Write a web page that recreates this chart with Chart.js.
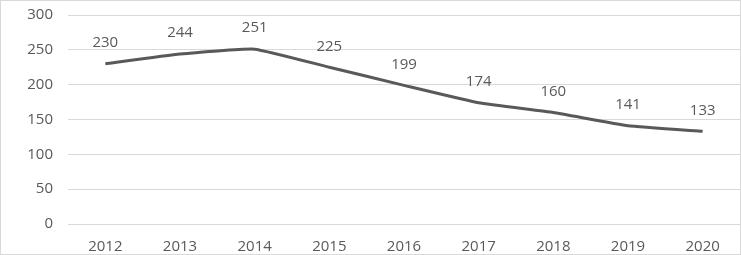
<!DOCTYPE html>
<html>
<head>
<meta charset="utf-8">
<script src="https://cdn.jsdelivr.net/npm/chart.js@4/dist/chart.umd.min.js"></script>
<style>
    html, body { margin: 0; padding: 0; background: #fff; }
    .wrap { position: relative; width: 739px; height: 253px; border: 1px solid #d9d9d9; }
</style>
</head>
<body>
<div class="wrap"><canvas id="lineChart"></canvas></div>
<script>
const years = ['2012', '2013', '2014', '2015', '2016', '2017', '2018', '2019', '2020'];
const values = [230, 244, 251, 225, 199, 174, 160, 141, 133];
const yTicks = [0, 50, 100, 150, 200, 250, 300];

// draws the value above each point
const pointLabels = {
    id: 'pointLabels',
    afterDatasetsDraw(chart) {
        const ctx = chart.ctx;
        const meta = chart.getDatasetMeta(0);
        ctx.save();
        ctx.fillStyle = '#595959';
        ctx.font = '15px "Open Sans", sans-serif';
        ctx.textAlign = 'center';
        ctx.textBaseline = 'middle';
        meta.data.forEach((pt, i) => {
            ctx.fillText(values[i], pt.x, pt.y - 21);
        });
        ctx.restore();
    }
};

new Chart(document.getElementById('lineChart'), {
    type: 'line',
    data: {
        labels: years,
        datasets: [{
            data: values,
            borderColor: '#595959',
            borderWidth: 3,
            pointRadius: 0,
            tension: 0.12,
            fill: false
        }]
    },
    options: {
        responsive: true,
        maintainAspectRatio: false,
        animation: false,
        layout: { padding: { top: 14, right: 0, bottom: 0, left: 0 } },
        plugins: {
            legend: { display: false },
            tooltip: { enabled: false }
        },
        scales: {
            x: {
                offset: true,
                grid: { display: false },
                border: { display: false },
                ticks: { color: '#595959', font: { family: 'Open Sans', size: 15 }, padding: 6, maxRotation: 0 },
                afterFit: (s) => { s.height = 30; }
            },
            y: {
                min: 0,
                max: 300,
                afterBuildTicks: (s) => { s.ticks = yTicks.map(v => ({ value: v })); },
                grid: { color: '#d9d9d9', drawTicks: false },
                border: { display: false },
                ticks: { color: '#595959', font: { family: 'Open Sans', size: 15 }, padding: 15 },
                afterFit: (s) => { s.width = 67; s.paddingTop = 0; s.paddingBottom = 0; }
            }
        }
    },
    plugins: [pointLabels]
});
</script>
</body>
</html>
